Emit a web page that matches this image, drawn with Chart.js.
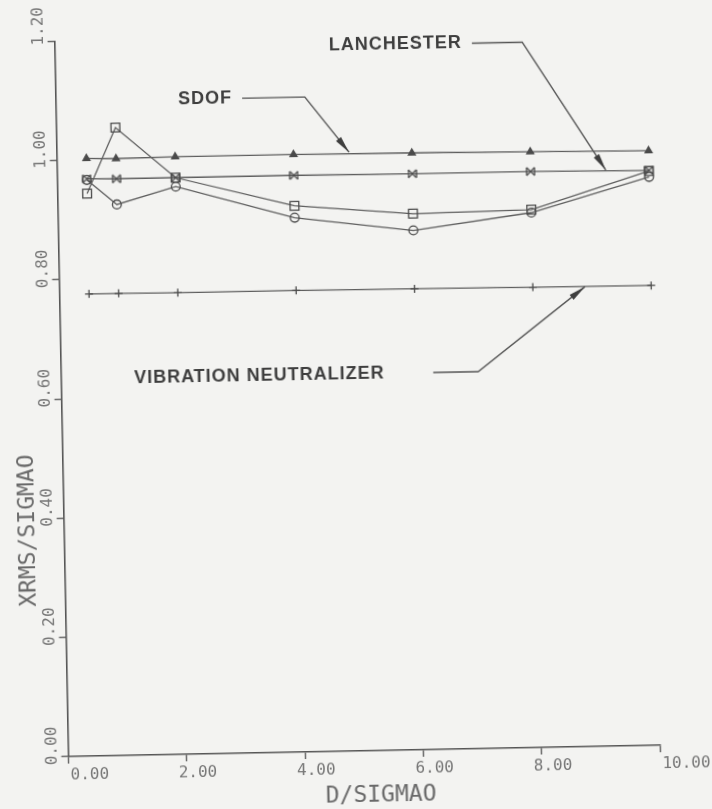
<!DOCTYPE html>
<html>
<head>
<meta charset="utf-8">
<title>XRMS/SIGMAO</title>
<script src="https://cdn.jsdelivr.net/npm/chart.js@4.4.1/dist/chart.umd.min.js"></script>
<style>
  html, body { margin: 0; padding: 0; background: #f3f3f1; overflow: hidden; }
  #plot { display: block; transform: rotate(-1.1deg); transform-origin: 50% 50%; }
</style>
</head>
<body>
<canvas id="plot" width="712" height="809"></canvas>
<script>
// D/SIGMAO positions of the computed cases
const dOverSigma = [0.5, 1, 2, 4, 6, 8, 10]

// XRMS/SIGMAO for each damper model
const sdof = [1.002, 1.001, 1.002, 1.002, 1.001, 0.999, 0.997]
const lanchester = [0.968, 0.967, 0.967, 0.967, 0.966, 0.966, 0.964]
const neutralizer = [0.775, 0.775, 0.774, 0.774, 0.773, 0.772, 0.771]
const squares = [0.943, 1.053, 0.967, 0.916, 0.899, 0.902, 0.963]
const circles = [0.966, 0.924, 0.952, 0.896, 0.871, 0.897, 0.953]

const xTicks = [0, 2, 4, 6, 8, 10]
const xTickLabels = ['0.00', '2.00', '4.00', '6.00', '8.00', '10.00']
const yTicks = [0, 0.2, 0.4, 0.6, 0.8, 1.0, 1.2]
const yTickLabels = ['0.00', '0.20', '0.40', '0.60', '0.80', '1.00', '1.20']

const ink = '#4a4a4a'
const lineInk = '#5e5e5e'

function pairs(ys) {
    return dOverSigma.map((x, i) => ({ x: x, y: ys[i] }))
}

// "bowtie" marker: an X closed by two vertical bars
function bowtie(size) {
    const c = document.createElement('canvas')
    c.width = size + 2
    c.height = size + 2
    const g = c.getContext('2d')
    g.strokeStyle = ink
    g.lineWidth = 1.3
    g.beginPath()
    g.moveTo(1, 1); g.lineTo(size + 1, size + 1)
    g.moveTo(1, size + 1); g.lineTo(size + 1, 1)
    g.moveTo(1, 1); g.lineTo(1, size + 1)
    g.moveTo(size + 1, 1); g.lineTo(size + 1, size + 1)
    g.stroke()
    return c
}

function series(label, ys, style, radius, filled) {
    return {
        label: label,
        data: pairs(ys),
        borderColor: lineInk,
        borderWidth: 1.3,
        pointStyle: style,
        pointRadius: radius,
        pointBorderColor: ink,
        pointBorderWidth: 1.3,
        pointBackgroundColor: filled ? ink : 'rgba(0,0,0,0)',
        tension: 0,
        fill: false,
        clip: false
    }
}

// leader lines with arrow heads, in data units
const callouts = [
    { text: 'LANCHESTER', at: [6.88, 1.183], path: [[7.05, 1.183], [7.90, 1.183], [9.27, 0.966]] },
    { text: 'SDOF', at: [2.98, 1.098], path: [[3.15, 1.098], [4.21, 1.098], [4.94, 1.004]] },
    { text: 'VIBRATION NEUTRALIZER', at: [5.47, 0.632], path: [[6.29, 0.632], [7.05, 0.632], [8.88, 0.771]] }
]

const calloutPlugin = {
    id: 'callouts',
    afterDatasetsDraw(chart) {
        const { ctx, scales: { x, y } } = chart
        ctx.save()
        ctx.strokeStyle = '#555'
        ctx.fillStyle = '#3e3e3e'
        ctx.lineWidth = 1.4
        ctx.font = 'bold 18px "Liberation Sans"'
        ctx.letterSpacing = '1px'
        ctx.textAlign = 'right'
        ctx.textBaseline = 'middle'
        callouts.forEach(c => {
            ctx.fillText(c.text, x.getPixelForValue(c.at[0]), y.getPixelForValue(c.at[1]))
            const pts = c.path.map(p => [x.getPixelForValue(p[0]), y.getPixelForValue(p[1])])
            ctx.beginPath()
            pts.forEach((p, i) => i ? ctx.lineTo(p[0], p[1]) : ctx.moveTo(p[0], p[1]))
            ctx.stroke()
            // arrow head on the last segment
            const [ax, ay] = pts[pts.length - 2]
            const [bx, by] = pts[pts.length - 1]
            const ang = Math.atan2(by - ay, bx - ax)
            ctx.save()
            ctx.translate(bx, by)
            ctx.rotate(ang)
            ctx.beginPath()
            ctx.moveTo(0, 0)
            ctx.lineTo(-17, -3.2)
            ctx.lineTo(-17, 3.2)
            ctx.closePath()
            ctx.fill()
            ctx.restore()
        })
        ctx.restore()
    }
}

const axisTextPlugin = {
    id: 'axisText',
    afterDraw(chart) {
        const { ctx, chartArea, scales: { x, y } } = chart
        ctx.save()
        ctx.fillStyle = '#777'
        ctx.font = '16px "DejaVu Sans Mono"'
        ctx.textBaseline = 'middle'
        xTicks.forEach((v, i) => {
            const px = x.getPixelForValue(v)
            const edge = i === 0 || i === xTicks.length - 1
            ctx.textAlign = edge ? 'left' : 'center'
            ctx.fillText(xTickLabels[i], edge ? px + 2 : px + 11, chartArea.bottom + 19)
        })
        yTicks.forEach((v, i) => {
            const py = y.getPixelForValue(v)
            const last = i === yTicks.length - 1
            ctx.save()
            ctx.translate(chartArea.left - 16, last ? py - 15 : py - 11)
            ctx.rotate(-Math.PI / 2)
            ctx.textAlign = 'center'
            ctx.fillText(yTickLabels[i], 0, 0)
            ctx.restore()
        })

        ctx.fillStyle = '#6a6a6a'
        ctx.font = '23px "DejaVu Sans Mono"'
        ctx.textAlign = 'center'
        ctx.fillText('D/SIGMAO', chartArea.left + 312, chartArea.bottom + 45)
        ctx.save()
        ctx.translate(chartArea.left - 36, y.getPixelForValue(0.38))
        ctx.rotate(-Math.PI / 2)
        ctx.fillText('XRMS/SIGMAO', 0, 0)
        ctx.restore()
        ctx.restore()
    }
}

const axisLook = {
    ticks: { display: false },
    grid: { drawOnChartArea: false, drawTicks: true, tickLength: 7, color: '#555', lineWidth: 1.3 },
    border: { display: true, color: '#555', width: 1.6 }
}

new Chart(document.getElementById('plot'), {
    type: 'line',
    data: {
        datasets: [
            series('SDOF', sdof, 'triangle', 4, true),
            series('LANCHESTER', lanchester, bowtie(8), 4, false),
            series('VIBRATION NEUTRALIZER', neutralizer, 'cross', 4, false),
            series('squares', squares, 'rect', 6.2, false),
            series('circles', circles, 'circle', 4.4, false)
        ]
    },
    options: {
        responsive: false,
        animation: false,
        devicePixelRatio: 1,
        layout: { padding: { top: 35.3, right: 58.6, left: 0, bottom: 0 } },
        plugins: {
            legend: { display: false },
            tooltip: { enabled: false }
        },
        scales: {
            x: Object.assign({
                type: 'linear',
                min: 0,
                max: 10,
                afterBuildTicks: s => { s.ticks = xTicks.map(v => ({ value: v })) },
                afterFit: s => { s.height = 58 }
            }, axisLook),
            y: Object.assign({
                type: 'linear',
                min: 0,
                max: 1.2,
                afterBuildTicks: s => { s.ticks = yTicks.map(v => ({ value: v })) },
                afterFit: s => { s.width = 61.6 }
            }, axisLook)
        }
    },
    plugins: [calloutPlugin, axisTextPlugin]
})
</script>
</body>
</html>
